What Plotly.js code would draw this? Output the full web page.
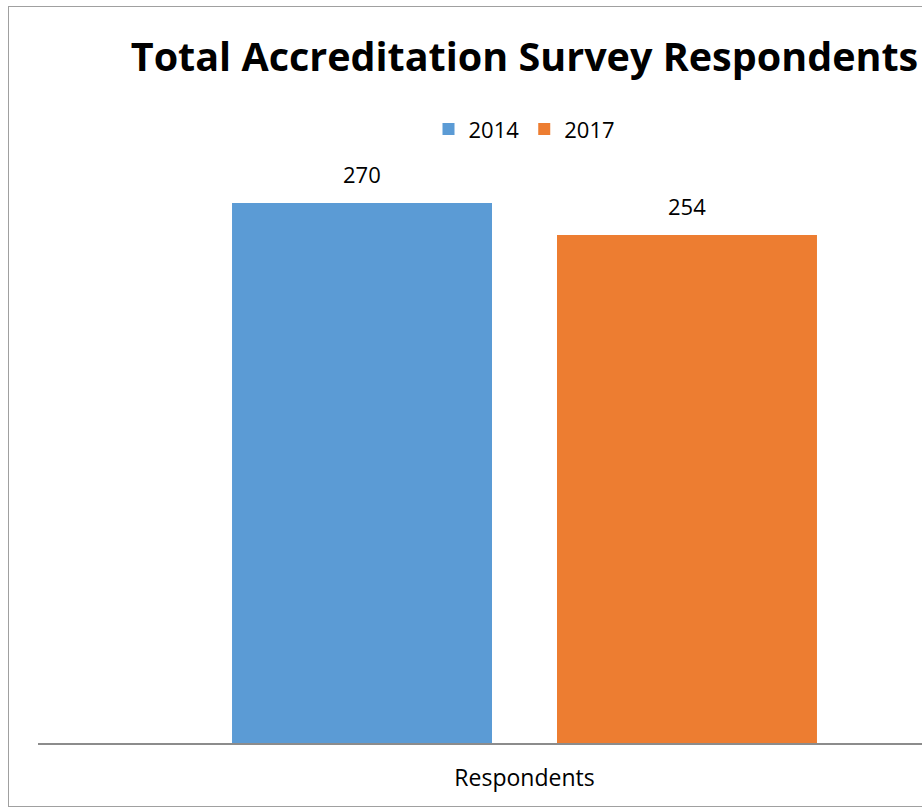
<!DOCTYPE html>
<html>
<head>
<meta charset="utf-8">
<script src="https://cdn.plot.ly/plotly-3.0.1.min.js"></script>
<style>
html, body { margin:0; padding:0; width:922px; height:810px; overflow:hidden; background:#fff; }
#frame { position:absolute; left:8px; top:6px; width:1200px; height:801px; border:1.5px solid #a0a0a0; border-right:none; box-sizing:border-box; }
#chart { position:absolute; left:0; top:0; width:1060px; height:810px; }
</style>
</head>
<body>
<div id="frame"></div>
<div id="chart"></div>
<script>
const categories = ["Respondents"];
const seriesNames = ["2014", "2017"];
const values2014 = [270];
const values2017 = [254];
const colors = ["#5B9BD5", "#ED7D31"];

const FONT = "Open Sans, Liberation Sans, sans-serif";

const traces = [
  { type: "bar", name: seriesNames[0], x: categories, y: values2014, marker: { color: colors[0] }, hoverinfo: "none" },
  { type: "bar", name: seriesNames[1], x: categories, y: values2017, marker: { color: colors[1] }, hoverinfo: "none" }
];

const allVals = [values2014, values2017];
const annotations = [];
allVals.forEach((vals, si) => {
  vals.forEach((v, i) => {
    annotations.push({
      x: categories[i], y: v, xref: "x", yref: "y",
      text: String(v), showarrow: false,
      xanchor: "center", yanchor: "bottom",
      xshift: (si === 0 ? -162.5 : 162.5), yshift: 12,
      font: { family: FONT, size: 22, color: "#000" }
    });
  });
});

const layout = {
  width: 1060, height: 810,
  margin: { l: 38, r: 49, t: 143, b: 67, pad: 0 },
  paper_bgcolor: "rgba(0,0,0,0)",
  plot_bgcolor: "rgba(0,0,0,0)",
  title: {
    text: "<b>Total Accreditation Survey Respondents</b>",
    font: { family: FONT, size: 39.5, color: "#000" },
    xref: "paper", x: 0.5, xanchor: "center",
    yref: "container", y: 1 - 57 / 810, yanchor: "middle"
  },
  barmode: "group",
  bargap: 0.332,
  bargroupgap: 0.2,
  showlegend: true,
  legend: {
    orientation: "h", x: 0.5, xanchor: "center", y: 1.023, yanchor: "middle",
    font: { family: FONT, size: 22, color: "#000" },
    itemwidth: 30, traceorder: "normal"
  },
  xaxis: {
    type: "category",
    showline: true, linecolor: "#8c8c8c", linewidth: 1.5,
    ticks: "", showgrid: false, zeroline: false,
    tickfont: { family: FONT, size: 23, color: "#000" },
    ticklabelstandoff: 14
  },
  yaxis: {
    range: [0, 300], visible: false, showgrid: false, zeroline: false
  },
  annotations: annotations
};

Plotly.newPlot("chart", traces, layout, { displayModeBar: false, staticPlot: true });
</script>
</body>
</html>
